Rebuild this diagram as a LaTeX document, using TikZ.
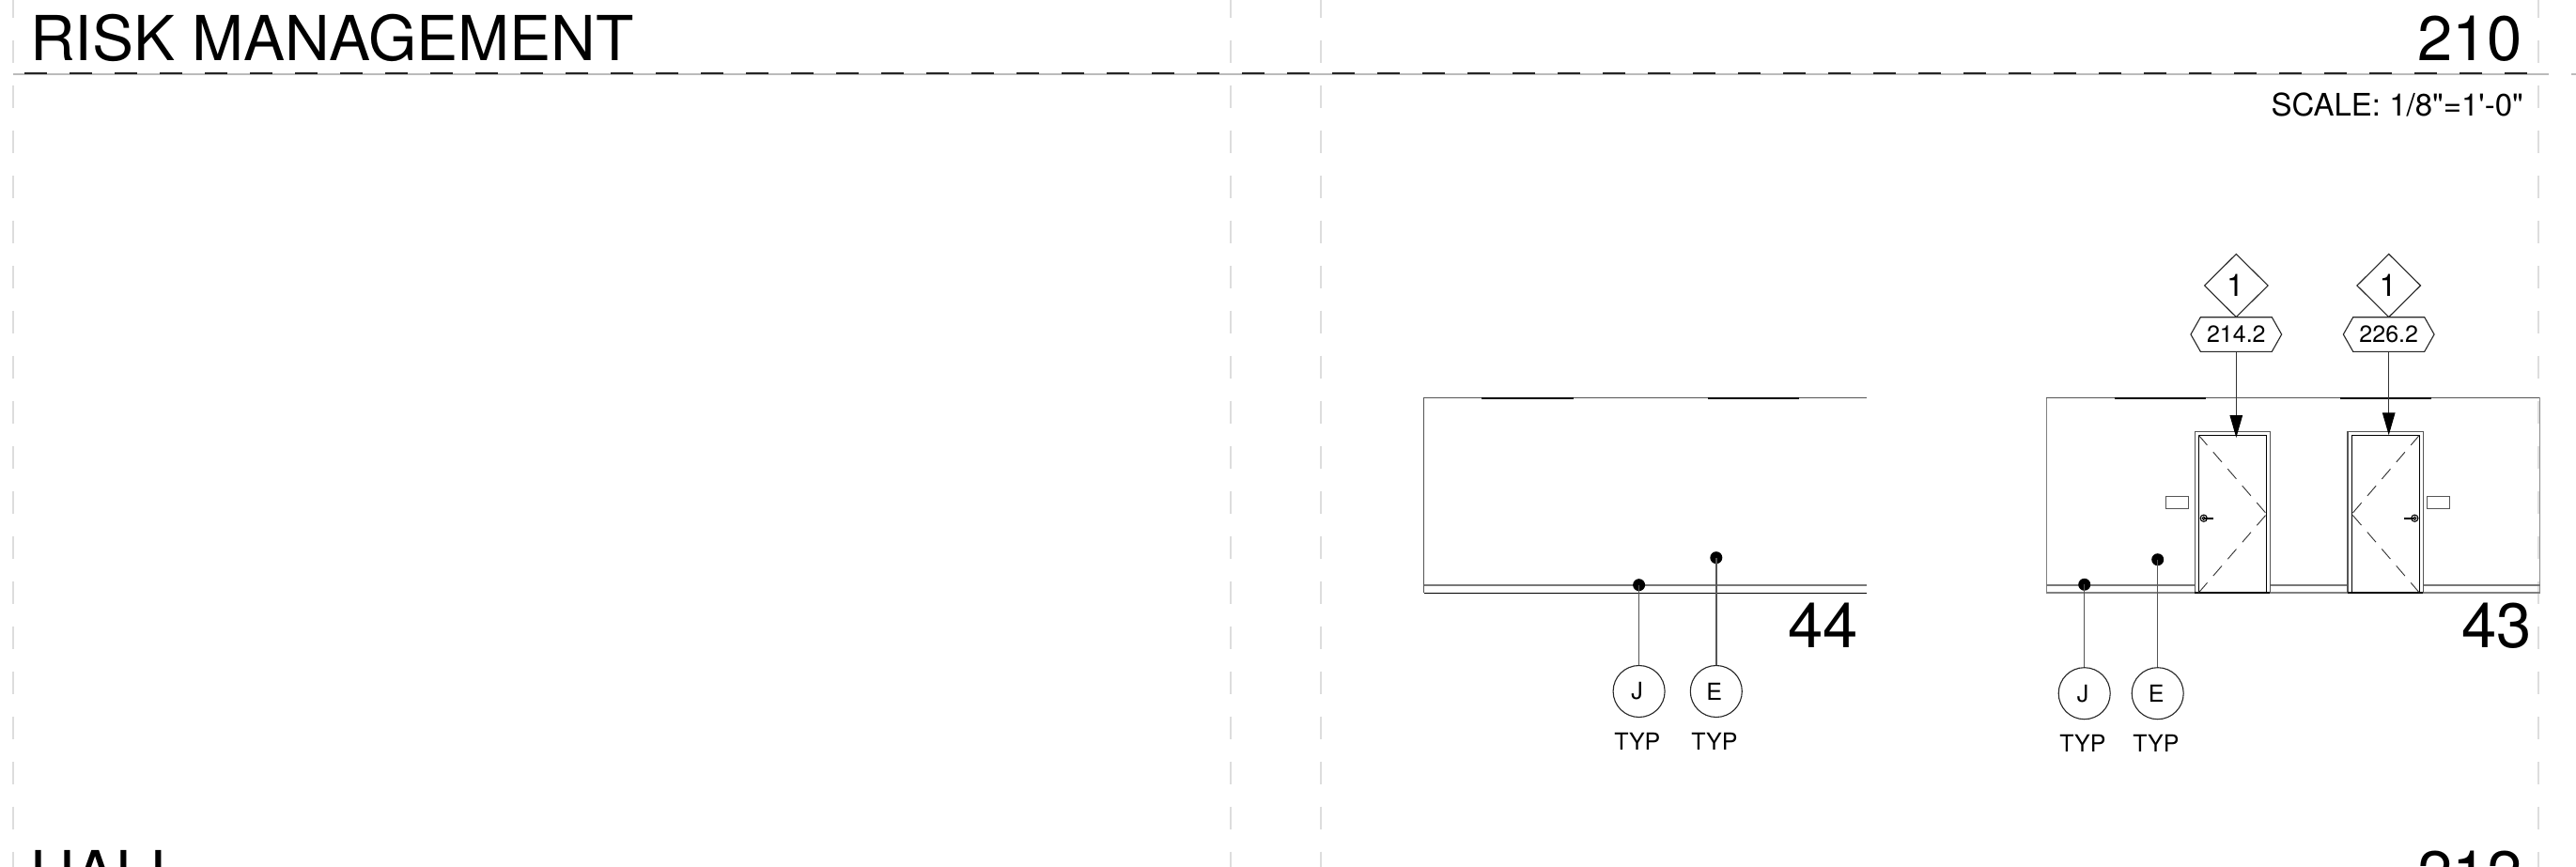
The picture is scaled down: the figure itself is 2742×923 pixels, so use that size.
\documentclass[tikz,border=0pt]{standalone}
\usepackage{fontspec}
\newfontfamily\helv{TeX Gyre Heros}
\usetikzlibrary{arrows.meta,shapes.geometric,shapes.symbols}
\definecolor{linegray}{HTML}{555555}
\definecolor{thickgray}{HTML}{777777}
\definecolor{gridgray}{HTML}{DDDDDD}
\definecolor{rulegray}{HTML}{BBBBBB}
\tikzset{
  bigtext/.style={font=\helv\fontsize{67}{70}\selectfont,inner sep=0pt},
  titletext/.style={font=\helv\fontsize{66}{70}\selectfont,inner sep=0pt},
  scaletext/.style={font=\helv\fontsize{33}{36}\selectfont,inner sep=0pt},
  smalltext/.style={font=\helv\fontsize{25}{28}\selectfont,inner sep=0pt},
  gridline/.style={draw=gridgray,line width=2pt,dash pattern=on 24pt off 24pt},
  wallline/.style={draw=linegray,line width=1.2pt},
  darkline/.style={draw=black,line width=1pt},
  railline/.style={draw=thickgray,line width=2pt},
  soffit/.style={draw=black,line width=2pt},
  leader/.style={draw=linegray,line width=1.4pt},
  dotnode/.style={circle,fill=black,inner sep=0pt,minimum size=13pt},
  keycircle/.style={circle,draw=black!85,fill=white,line width=1.1pt,inner sep=0pt,minimum size=55pt,font=\helv\fontsize{25}{28}\selectfont},
  keydiamond/.style={diamond,draw=black!85,fill=white,line width=1.1pt,inner sep=0pt,minimum width=68pt,minimum height=67.5pt,font=\helv\fontsize{33}{36}\selectfont},
  keyhex/.style={signal,signal to=west and east,signal pointer angle=121,draw=black!85,fill=white,line width=1.1pt,inner sep=0pt,minimum width=96.7pt,minimum height=36.6pt,font=\helv\fontsize{25}{28}\selectfont},
  doorouter/.style={draw=linegray,line width=1.3pt},
  doorinner/.style={draw=black,line width=1.4pt},
  doordash/.style={draw=black!80,line width=0.9pt,dash pattern=on 14pt off 9.7pt},
  switchbox/.style={draw=linegray,line width=1.2pt,fill=white},
  handle/.style={draw=black,line width=1.1pt},
  pointer/.style={draw=black!80,line width=1.2pt,-{Triangle[length=24pt,width=13.5pt,color=black,fill=black]}},
}
\begin{document}
\begin{tikzpicture}[x=1pt,y=-1pt]
\useasboundingbox (0,0) rectangle (2742,923);
\clip (0,0) rectangle (2742,923);
\fill[white] (0,0) rectangle (2742,923);
% sheet grid
\foreach \gx in {14,1310,1406,2702}{\draw[gridline] (\gx,-5.3) -- (\gx,930);}
\draw[rulegray,line width=2pt] (14,78.7) -- (2713,78.7);
\draw[rulegray,line width=2pt] (2737,78.7) -- (2742,78.7);
\draw[black!85,line width=1.4pt,dash pattern=on 24pt off 24pt] (26,78.2) -- (2690,78.2);
% titles
\node[titletext,anchor=base west] (title1) at (32,65) {RISK MANAGEMENT};
\node[bigtext,anchor=base east] (num1) at (2685,65) {210};
\node[scaletext,anchor=base east] (scale1) at (2686,123.5) {SCALE: 1/8"=1'-0"};
\node[titletext,anchor=base west] (title2) at (32,953) {HALL};
\node[bigtext,anchor=base east] (num2) at (2685,953) {212};
% elevation 44
\draw[wallline] (1987,423.7) -- (1515.7,423.7) -- (1515.7,631);
\draw[darkline] (1515.7,631) -- (1987,631);
\draw[railline] (1515.7,622.7) -- (1987,622.7);
\draw[soffit] (1577,424) -- (1675,424);
\draw[soffit] (1817.5,424) -- (1914.6,424);
\node[bigtext,anchor=base east] (n44) at (1978,689) {44};
\node[keycircle] (j44) at (1744.6,736) {J\kern4pt};
\node[keycircle] (e44) at (1826.8,736) {E\kern4pt};
\node[dotnode] (dj44) at (1744.6,622.7) {};
\node[dotnode] (de44) at (1826.8,593.7) {};
\draw[leader] (dj44.center) -- (j44.north);
\draw[leader] (de44.center) -- (e44.north);
\node[smalltext,anchor=base] (tj44) at (1742.8,798.3) {TYP};
\node[smalltext,anchor=base] (te44) at (1825,798.3) {TYP};
% elevation 43
\draw[draw=black!50,line width=1.2pt] (2178.3,631) -- (2178.3,423.3);
\draw[wallline] (2178.3,423.3) -- (2703.7,423.3);
\draw[draw=black!45,line width=1.2pt] (2703.7,423.3) -- (2703.7,631);
\draw[draw=black!50,line width=1.2pt] (2178.3,631) -- (2336.3,631);
\draw[draw=black!50,line width=1.2pt] (2416.3,631) -- (2499,631);
\draw[draw=black!50,line width=1.2pt] (2579.3,631) -- (2703.7,631);
\draw[railline] (2178.3,623) -- (2336.3,623);
\draw[railline] (2416.3,623) -- (2499,623);
\draw[railline] (2579.3,623) -- (2703.7,623);
\draw[soffit] (2250.7,423.5) -- (2347.7,423.5);
\draw[soffit] (2490.7,423.5) -- (2587.7,423.5);
% door 1
\draw[doorouter] (2336.3,631) -- (2336.3,459.3) -- (2416.3,459.3) -- (2416.3,631);
\draw[doorinner] (2340.3,631) -- (2340.3,463.3) -- (2412.7,463.3) -- (2412.7,631);
\draw[doorinner] (2336.3,631) -- (2416.3,631);
\coordinate (apex1) at (2412.7,547.3);
\draw[doordash] (2340.3,463.3) -- (apex1);
\draw[doordash] (2340.3,631) -- (apex1);
\draw[handle] (2345.7,551.7) circle (3.6);
\draw[handle] (2345.7,551.7) circle (1.5);
\draw[handle,line width=1.8pt] (2345.7,551.7) -- (2355.7,551.7);
\node[switchbox,minimum width=24pt,minimum height=12.6pt,inner sep=0pt] (sw1) at (2317.7,535) {};
% door 2
\draw[doorouter] (2499,631) -- (2499,459.3) -- (2579.3,459.3) -- (2579.3,631);
\draw[doorinner] (2503.3,631) -- (2503.3,463.3) -- (2575.3,463.3) -- (2575.3,631);
\draw[doorinner] (2499,631) -- (2579.3,631);
\coordinate (apex2) at (2503.3,547.3);
\draw[doordash] (2575.3,463.3) -- (apex2);
\draw[doordash] (2575.3,631) -- (apex2);
\draw[handle] (2570.3,551.7) circle (3.6);
\draw[handle] (2570.3,551.7) circle (1.5);
\draw[handle,line width=1.8pt] (2570.3,551.7) -- (2559.3,551.7);
\node[switchbox,minimum width=24.4pt,minimum height=12.6pt,inner sep=0pt] (sw2) at (2595.5,535) {};
% tags
\node[keydiamond] (d1) at (2380.3,304) {1\kern2pt};
\node[keydiamond] (d2) at (2542.7,304) {1\kern2pt};
\node[keyhex] (h1) at (2380.3,356) {214.2};
\node[keyhex] (h2) at (2542.7,356) {226.2};
\coordinate (t1) at (2380.3,466);
\coordinate (t2) at (2542.7,463.3);
\draw[pointer] (h1.south) -- (t1);
\draw[pointer] (h2.south) -- (t2);
% keys of 43
\node[bigtext,anchor=base east] (n43) at (2695,689) {43};
\node[keycircle] (j43) at (2218.7,738.2) {J\kern3pt};
\node[keycircle] (e43) at (2296.7,738.2) {E\kern3pt};
\node[dotnode] (dj43) at (2218.7,622.3) {};
\node[dotnode] (de43) at (2296.7,595.7) {};
\draw[leader] (dj43.center) -- (j43.north);
\draw[leader] (de43.center) -- (e43.north);
\node[smalltext,anchor=base] (tj43) at (2217,800) {TYP};
\node[smalltext,anchor=base] (te43) at (2295,800) {TYP};
\end{tikzpicture}
\end{document}
